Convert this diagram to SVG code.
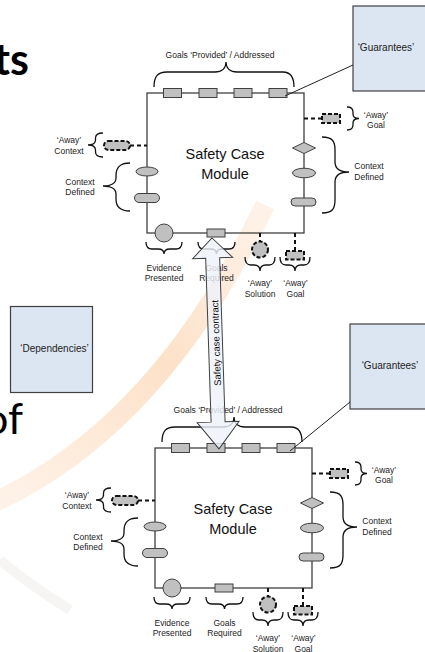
<svg xmlns="http://www.w3.org/2000/svg" width="425" height="652" viewBox="0 0 425 652">
<defs>
<style>
.box{fill:none;stroke:#404040;stroke-width:1.3}
.g{fill:#c0c0c0;stroke:#404040;stroke-width:1}
.gd{fill:#c0c0c0;stroke:#111;stroke-width:2;stroke-dasharray:4 2}
.dl{fill:none;stroke:#111;stroke-width:2;stroke-dasharray:4 3}
.br{fill:none;stroke:#111;stroke-width:1.3}
.lbl{font-family:"Liberation Sans",Arial,sans-serif;font-size:8.5px;fill:#222;text-anchor:middle}
.title{font-family:"Liberation Sans",Arial,sans-serif;font-size:14.5px;fill:#111;text-anchor:middle}
.note{fill:#dce6f2;stroke:#404040;stroke-width:1.2}
.ntxt{font-family:"Liberation Sans",Arial,sans-serif;font-size:10px;fill:#222;text-anchor:middle}
.big{font-family:Lato,"Open Sans",sans-serif;font-size:43px;fill:#000}
.line{fill:none;stroke:#222;stroke-width:1}
</style>
<linearGradient id="og" x1="0" y1="1" x2="1" y2="0">
<stop offset="0" stop-color="#fde3cc" stop-opacity="0.45"/>
<stop offset="0.55" stop-color="#fbc99c" stop-opacity="0.55"/>
<stop offset="1" stop-color="#fde6d2" stop-opacity="0.5"/>
</linearGradient>
</defs>
<rect width="425" height="652" fill="#fff"/>
<g id="background">
<path d="M -5,502 Q 160,425 265,205" fill="none" stroke="url(#og)" stroke-width="20"/>
<path d="M 0,560 Q 30,585 70,610" fill="none" stroke="#f1eeeb" stroke-width="10" opacity="0.6"/>
<text class="big" x="29" y="75" text-anchor="end" font-weight="bold">ts</text>
<text class="big" x="23" y="434" text-anchor="end">of</text>
</g>

<g id="module1">
<rect class="box" x="147" y="93" width="157" height="140"/>
<text class="title" x="225" y="158.5">Safety Case</text>
<text class="title" x="225" y="178.5">Module</text>
<rect class="g" x="163.5" y="88.5" width="18" height="9"/>
<rect class="g" x="199" y="88.5" width="18" height="9"/>
<rect class="g" x="234" y="88.5" width="18" height="9"/>
<rect class="g" x="269" y="88.5" width="18" height="9"/>
<path class="br" d="M154,87 C154,76 158,72 167,72 L215,72 C222,72 226,68 226,62 C226,68 230,72 237,72 L283,72 C290,72 294,76 294,87"/>
<text class="lbl" x="220" y="57.5">Goals ‘Provided’ / Addressed</text>
<path class="dl" d="M304,118.5 H322"/>
<rect class="gd" x="322" y="114" width="18" height="9"/>
<path class="br" d="M347,107 Q353,107 353,112 L353,114 Q353,118.5 359,118.5 Q353,118.5 353,123 L353,125 Q353,130 347,130"/>
<text class="lbl" x="376" y="118">‘Away’</text>
<text class="lbl" x="376" y="128">Goal</text>
<polygon class="g" points="292.5,148 304,142.5 315.5,148 304,153.5"/>
<ellipse class="g" cx="304" cy="173" rx="11.5" ry="4.8"/>
<rect class="g" x="291" y="198" width="25" height="8" rx="4"/>
<path class="br" d="M322,137 C333,137 335,142 335,150 L335,162 C335,169 340,172 349,172 C340,172 335,175 335,182 L335,200 C335,208 333,213 322,213"/>
<text class="lbl" x="369" y="168.8">Context</text>
<text class="lbl" x="369" y="179.8">Defined</text>
<path class="dl" d="M130,145.5 H147"/>
<rect class="gd" x="104" y="141" width="26" height="9" rx="4.5"/>
<path class="br" d="M103,133 Q95.5,133 95.5,138 L95.5,140 Q95.5,145 88,145 Q95.5,145 95.5,150 L95.5,152 Q95.5,157 103,157"/>
<text class="lbl" x="69" y="143">‘Away’</text>
<text class="lbl" x="69" y="154">Context</text>
<ellipse class="g" cx="147" cy="171.5" rx="11" ry="4.5"/>
<rect class="g" x="134.5" y="193.5" width="25" height="9" rx="4.5"/>
<path class="br" d="M130,163 C119,163 116,168 116,176 L116,178 C116,183 111,186 103,186 C111,186 116,189 116,194 L116,199 C116,206 119,211 130,211"/>
<text class="lbl" x="80" y="184.8">Context</text>
<text class="lbl" x="80" y="195.4">Defined</text>
<circle class="g" cx="164" cy="233" r="9"/>
<rect class="g" x="207" y="229" width="18" height="8"/>
<path class="br" d="M146,242 Q146,249 152,249 L158,249 Q164,249 164,254 Q164,249 170,249 L176,249 Q182,249 182,242"/>
<text class="lbl" x="164" y="271.3">Evidence</text>
<text class="lbl" x="164" y="281.3">Presented</text>
<path class="br" d="M198,242 Q198,249 204,249 L210.5,249 Q216.5,249 216.5,254 Q216.5,249 222.5,249 L229,249 Q235,249 235,242"/>
<text class="lbl" x="216.5" y="271.3">Goals</text>
<text class="lbl" x="216.5" y="281.3">Required</text>
<path class="dl" d="M260,233 V241"/>
<circle class="gd" cx="260" cy="249.5" r="8"/>
<path class="br" d="M245,257 Q245,265 251,265 L254,265 Q260,265 260,271 Q260,265 266,265 L269,265 Q275,265 275,257"/>
<text class="lbl" x="260" y="285.7">‘Away’</text>
<text class="lbl" x="260" y="297">Solution</text>
<path class="dl" d="M295,233 V251"/>
<rect class="gd" x="286" y="251" width="18" height="8.5"/>
<path class="br" d="M280,257 Q280,265 286,265 L289,265 Q295,265 295,271 Q295,265 301,265 L304,265 Q310,265 310,257"/>
<text class="lbl" x="295.5" y="285.7">‘Away’</text>
<text class="lbl" x="295.5" y="297">Goal</text>
</g>

<g id="module2" transform="translate(8,355)">
<rect class="box" x="147" y="93" width="157" height="140"/>
<text class="title" x="225" y="158.5">Safety Case</text>
<text class="title" x="225" y="178.5">Module</text>
<rect class="g" x="163.5" y="88.5" width="18" height="9"/>
<rect class="g" x="199" y="88.5" width="18" height="9"/>
<rect class="g" x="234" y="88.5" width="18" height="9"/>
<rect class="g" x="269" y="88.5" width="18" height="9"/>
<path class="br" d="M154,87 C154,76 158,72 167,72 L215,72 C222,72 226,68 226,62 C226,68 230,72 237,72 L283,72 C290,72 294,76 294,87"/>
<text class="lbl" x="220" y="57.5">Goals ‘Provided’ / Addressed</text>
<path class="dl" d="M304,118.5 H322"/>
<rect class="gd" x="322" y="114" width="18" height="9"/>
<path class="br" d="M347,107 Q353,107 353,112 L353,114 Q353,118.5 359,118.5 Q353,118.5 353,123 L353,125 Q353,130 347,130"/>
<text class="lbl" x="376" y="118">‘Away’</text>
<text class="lbl" x="376" y="128">Goal</text>
<polygon class="g" points="292.5,148 304,142.5 315.5,148 304,153.5"/>
<ellipse class="g" cx="304" cy="173" rx="11.5" ry="4.8"/>
<rect class="g" x="291" y="198" width="25" height="8" rx="4"/>
<path class="br" d="M322,137 C333,137 335,142 335,150 L335,162 C335,169 340,172 349,172 C340,172 335,175 335,182 L335,200 C335,208 333,213 322,213"/>
<text class="lbl" x="369" y="168.8">Context</text>
<text class="lbl" x="369" y="179.8">Defined</text>
<path class="dl" d="M130,145.5 H147"/>
<rect class="gd" x="104" y="141" width="26" height="9" rx="4.5"/>
<path class="br" d="M103,133 Q95.5,133 95.5,138 L95.5,140 Q95.5,145 88,145 Q95.5,145 95.5,150 L95.5,152 Q95.5,157 103,157"/>
<text class="lbl" x="69" y="143">‘Away’</text>
<text class="lbl" x="69" y="154">Context</text>
<ellipse class="g" cx="147" cy="171.5" rx="11" ry="4.5"/>
<rect class="g" x="134.5" y="193.5" width="25" height="9" rx="4.5"/>
<path class="br" d="M130,163 C119,163 116,168 116,176 L116,178 C116,183 111,186 103,186 C111,186 116,189 116,194 L116,199 C116,206 119,211 130,211"/>
<text class="lbl" x="80" y="184.8">Context</text>
<text class="lbl" x="80" y="195.4">Defined</text>
<circle class="g" cx="164" cy="233" r="9"/>
<rect class="g" x="207" y="229" width="18" height="8"/>
<path class="br" d="M146,242 Q146,249 152,249 L158,249 Q164,249 164,254 Q164,249 170,249 L176,249 Q182,249 182,242"/>
<text class="lbl" x="164" y="271.3">Evidence</text>
<text class="lbl" x="164" y="281.3">Presented</text>
<path class="br" d="M198,242 Q198,249 204,249 L210.5,249 Q216.5,249 216.5,254 Q216.5,249 222.5,249 L229,249 Q235,249 235,242"/>
<text class="lbl" x="216.5" y="271.3">Goals</text>
<text class="lbl" x="216.5" y="281.3">Required</text>
<path class="dl" d="M260,233 V241"/>
<circle class="gd" cx="260" cy="249.5" r="8"/>
<path class="br" d="M245,257 Q245,265 251,265 L254,265 Q260,265 260,271 Q260,265 266,265 L269,265 Q275,265 275,257"/>
<text class="lbl" x="260" y="285.7">‘Away’</text>
<text class="lbl" x="260" y="296.5">Solution</text>
<path class="dl" d="M295,233 V251"/>
<rect class="gd" x="286" y="251" width="18" height="8.5"/>
<path class="br" d="M280,257 Q280,265 286,265 L289,265 Q295,265 295,271 Q295,265 301,265 L304,265 Q310,265 310,257"/>
<text class="lbl" x="295.5" y="285.7">‘Away’</text>
<text class="lbl" x="295.5" y="296.5">Goal</text>
</g>

<g id="guarantees1">
<rect class="note" x="353" y="6" width="80" height="85"/>
<text class="ntxt" x="386" y="51">‘Guarantees’</text>
</g>
<g id="guarantees2">
<rect class="note" x="350" y="324" width="80" height="85"/>
<text class="ntxt" x="390" y="369">‘Guarantees’</text>
</g>
<g id="dependencies">
<rect class="note" x="10.5" y="306.5" width="82" height="86"/>
<text class="ntxt" x="54.5" y="352">‘Dependencies’</text>
</g>

<g id="connectors">
<path class="line" d="M353,65 L285,96"/>
<path class="line" d="M350,402 L290,451"/>
<g transform="translate(212,238) rotate(-1.9)">
<path d="M0,0 L20,20 L7,20 L7,184 L21,184 L0,211 L-21,184 L-7,184 L-7,20 L-20,20 Z" fill="#eef2fa" fill-opacity="0.82" stroke="#404040" stroke-width="1"/>
<text transform="translate(4,105) rotate(-90)" font-family="Liberation Sans, Arial, sans-serif" font-size="9.5" fill="#111" text-anchor="middle">Safety case contract</text>
</g>
</g>
</svg>
